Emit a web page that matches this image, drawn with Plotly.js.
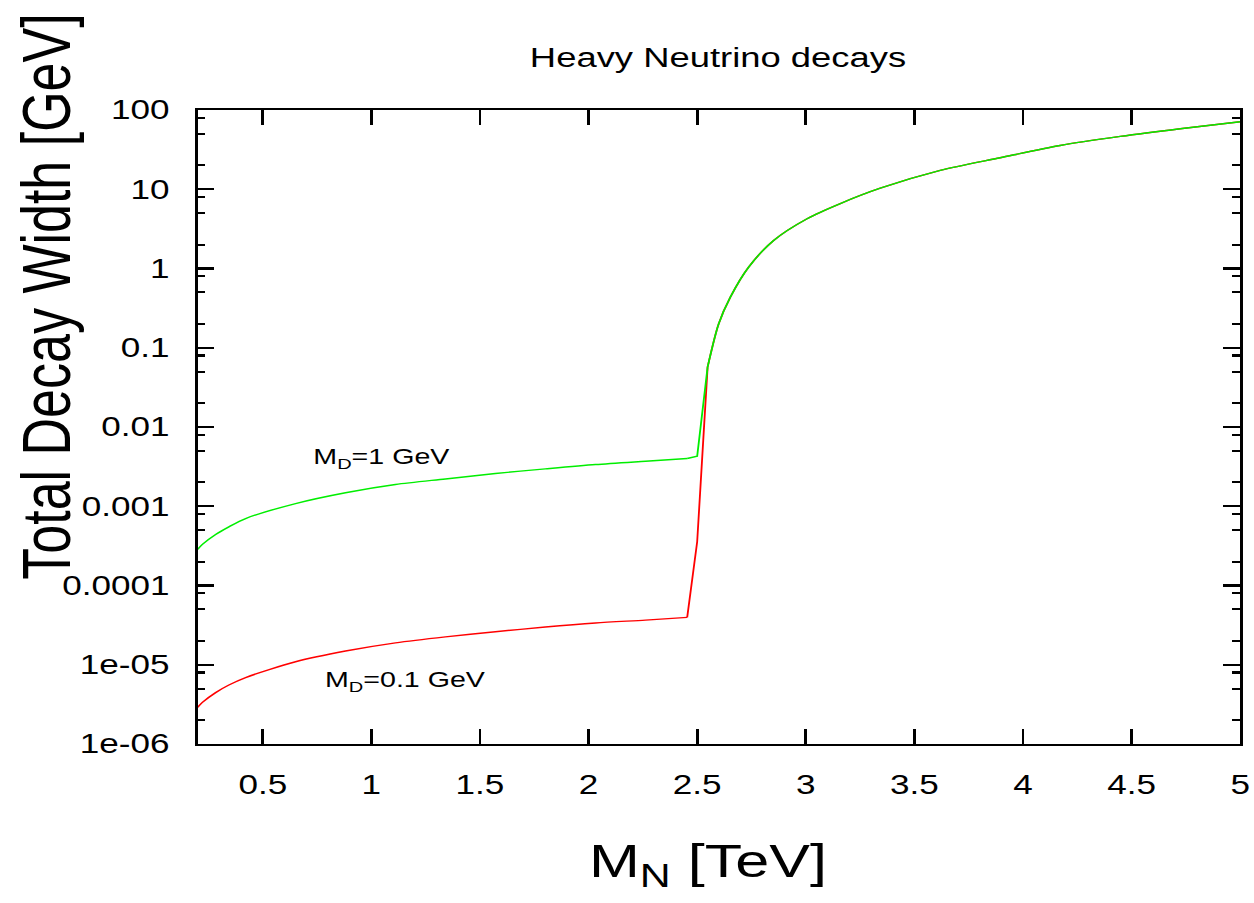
<!DOCTYPE html>
<html>
<head>
<meta charset="utf-8">
<script src="https://cdn.plot.ly/plotly-3.0.1.min.js"></script>
<style>
  html, body { margin: 0; padding: 0; background: #fff; overflow: hidden; }
  #wrap { width: 1254px; height: 903px; overflow: hidden; }
  #chart { width: 964.6px; height: 903px; transform: scaleX(1.3); transform-origin: 0 0; }
</style>
</head>
<body>
<div id="wrap"><div id="chart"></div></div>
<script>
// ---- data (M_N in TeV, total width in GeV) ----
const massLow = [0.2, 0.222, 0.283, 0.344, 0.421, 0.651, 0.881, 1.111, 1.341, 1.571, 1.801, 2.032, 2.262, 2.454];
const widthGreenLow = [2.85e-4, 3.3e-4, 4.4e-4, 5.5e-4, 7.0e-4, 1.08e-3, 1.48e-3, 1.88e-3, 2.21e-3, 2.59e-3, 2.96e-3, 3.36e-3, 3.70e-3, 4.0e-3];
const widthRedLow = [2.9e-6, 3.35e-6, 4.45e-6, 5.55e-6, 6.9e-6, 1.09e-5, 1.49e-5, 1.89e-5, 2.25e-5, 2.61e-5, 2.99e-5, 3.36e-5, 3.66e-5, 3.96e-5];
const massStep = [2.454, 2.5, 2.548];
const widthGreenStep = [4.0e-3, 4.28e-3, 0.057];
const widthRedStep = [3.96e-5, 3.56e-4, 0.057];
const massHigh = [2.548, 2.599, 2.653, 2.737, 2.852, 3.006, 3.159, 3.343, 3.619, 3.895, 4.171, 4.448, 4.724, 5.0];
const widthHigh = [0.057, 0.20, 0.436, 1.04, 2.26, 4.25, 6.6, 10.3, 17.3, 25.0, 35.7, 46.4, 58.0, 71.0];

const xTickVals = [0.5, 1, 1.5, 2, 2.5, 3, 3.5, 4, 4.5, 5];
const xTickText = ["0.5", "1", "1.5", "2", "2.5", "3", "3.5", "4", "4.5", "5"];
const yTickVals = [1e-6, 1e-5, 1e-4, 1e-3, 1e-2, 1e-1, 1, 10, 100];
const yTickText = ["1e-06", "1e-05", "0.0001", "0.001", "0.01", "0.1", "1", "10", "100"];
const minorMultipliers = [2, 5, 8];

const labelGreen = "M<sub>D</sub>=1 GeV";
const labelRed = "M<sub>D</sub>=0.1 GeV";

// ---- build ----
const yMinor = [];
for (const d of yTickVals) for (const m of minorMultipliers) { const v = d * m; if (v < 100) yMinor.push(v); }

const FONT = "Liberation Sans, Arial, Helvetica, sans-serif";
const RED = "#ff0000", GREEN = "#00ee00", LW = 1.4;

function seg(x, y, color, shape) {
  return { x: x, y: y, type: "scatter", mode: "lines",
           line: { color: color, width: LW, shape: shape, smoothing: 0.8 }, hoverinfo: "skip" };
}

const traces = [
  seg(massLow, widthRedLow, RED, "spline"),
  seg(massStep, widthRedStep, RED, "linear"),
  seg(massHigh, widthHigh, RED, "spline"),
  seg(massLow, widthGreenLow, GREEN, "spline"),
  seg(massStep, widthGreenStep, GREEN, "linear"),
  seg(massHigh, widthHigh, GREEN, "spline")
];

const axisCommon = {
  showline: true, linecolor: "#000", linewidth: 2.2, mirror: "allticks",
  ticks: "inside", tickcolor: "#000", tickwidth: 2.2,
  showgrid: false, zeroline: false, automargin: false,
  tickfont: { family: FONT, size: 27, color: "#000" }
};

const layout = {
  width: 964.6, height: 903,
  margin: { l: 151.5, r: 10.8, t: 109.5, b: 159, pad: 0 },
  paper_bgcolor: "#fff", plot_bgcolor: "#fff",
  showlegend: false,
  font: { family: FONT, color: "#000" },
  title: { text: "Heavy Neutrino decays", font: { family: FONT, size: 28, color: "#000" },
           xref: "container", x: 0.5726, xanchor: "center", yref: "container", y: 0.937, yanchor: "middle" },
  xaxis: Object.assign({}, axisCommon, {
    range: [0.2, 5], tickmode: "array", tickvals: xTickVals, ticktext: xTickText,
    ticklen: 15, ticklabelstandoff: 15
  }),
  yaxis: Object.assign({}, axisCommon, {
    type: "log", range: [-6, 2], tickmode: "array", tickvals: yTickVals, ticktext: yTickText,
    ticklen: 13, ticklabelstandoff: 14,
    minor: { tickmode: "array", tickvals: yMinor, ticks: "inside", ticklen: 6, tickwidth: 2.2, tickcolor: "#000", showgrid: false }
  }),
  annotations: [
    { text: "Total Decay Width [GeV]", textangle: -90, xref: "paper", yref: "paper", x: -0.145, y: 0.705,
      xanchor: "center", yanchor: "middle", showarrow: false, font: { family: FONT, size: 52, color: "#000" } },
    { text: "M<sub>N</sub> [TeV]", xref: "paper", yref: "paper", x: 0.49, y: -0.19,
      xanchor: "center", yanchor: "middle", showarrow: false, font: { family: FONT, size: 47, color: "#000" } },
    { text: labelGreen, xref: "x", yref: "y", x: 0.72, y: -2.39, xanchor: "left", yanchor: "middle",
      showarrow: false, font: { family: FONT, size: 22, color: "#000" } },
    { text: labelRed, xref: "x", yref: "y", x: 0.775, y: -5.21, xanchor: "left", yanchor: "middle",
      showarrow: false, font: { family: FONT, size: 22, color: "#000" } }
  ]
};

Plotly.newPlot("chart", traces, layout, { staticPlot: true, displayModeBar: false });
</script>
</body>
</html>
